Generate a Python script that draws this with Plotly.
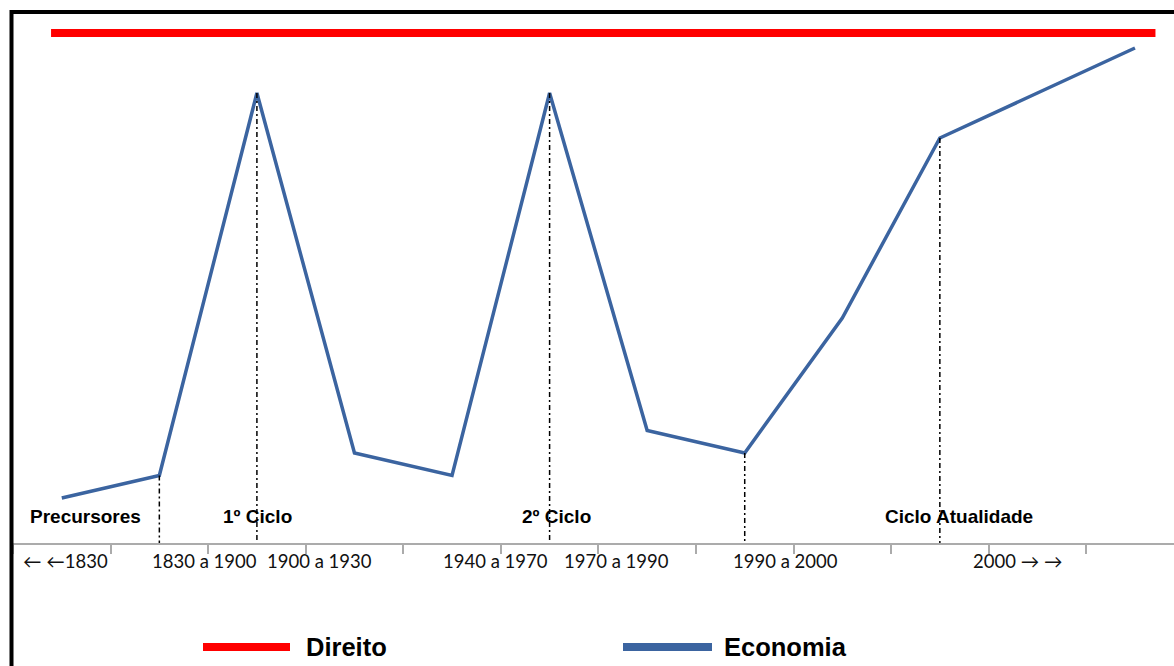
import plotly.graph_objects as go

# Timeline periods (one slot per category on the x axis)
periodos = ["← ←1830", "1830 a 1900", "1900 a 1930", "1940 a 1970",
            "1970 a 1990", "1990 a 2000", "2000 → →"]
# Economia curve, one value per slot
economia = [2, 3, 20, 4, 3, 20, 5, 4, 10, 18, 20, 22]
# Direito: constant high level across the whole timeline
direito_x = [-0.11, 11.21]
direito_y = [22.67, 22.67]
# Slots that mark the start/peak of each cycle
marcos = [1, 2, 5, 7, 9]
# Cycle names
ciclos = ["Precursores", "1º Ciclo", "2º Ciclo", "Ciclo Atualidade"]

# Layout-only placement of the text labels (x in slot units)
periodo_pos = [(-0.42, "left"), (1.465, "center"), (2.64, "center"), (4.45, "center"),
               (5.69, "center"), (7.42, "center"), (9.8, "center")]
ciclo_pos = [0.24, 2.01, 5.07, 9.2]

BLUE = "#3B64A0"
RED = "#FF0000"
AXIS = "#ABABAB"

W, H = 1174, 666
ML, MR, MT, MB = 13, 0, 3, 123
PW, PH = W - ML - MR, H - MT - MB


def px_x(px):
    return (px - ML) / PW


def px_y(py):
    return (H - MB - py) / PH


fig = go.Figure()

fig.add_trace(go.Scatter(x=direito_x, y=direito_y, mode="lines",
                         line=dict(color=RED, width=8), name="Direito",
                         showlegend=False, cliponaxis=False))

fig.add_trace(go.Scatter(x=list(range(len(economia))), y=economia, mode="lines",
                         line=dict(color=BLUE, width=3.5), name="Economia",
                         showlegend=False, cliponaxis=False))

# dash-dot drop lines from the marked points to the axis
dx, dy = [], []
for i in marcos:
    dx += [i, i, None]
    dy += [economia[i], 0, None]
fig.add_trace(go.Scatter(x=dx, y=dy, mode="lines",
                         line=dict(color="black", width=1.5, dash="5px,3px,2px,3px"),
                         showlegend=False, hoverinfo="skip"))

annotations = []
for txt, (xv, anc) in zip(periodos, periodo_pos):
    annotations.append(dict(x=xv, y=px_y(561), xref="x", yref="paper", text=txt,
                            showarrow=False, xanchor=anc, yanchor="middle",
                            font=dict(family="Lato", size=18.5, color="#111111")))
for txt, xv in zip(ciclos, ciclo_pos):
    annotations.append(dict(x=xv, y=px_y(516), xref="x", yref="paper",
                            text="<b>" + txt + "</b>",
                            showarrow=False, xanchor="center", yanchor="middle",
                            font=dict(family="Liberation Sans", size=19,
                                      color="black")))

# legend drawn by hand at the bottom
legend_items = [("Direito", RED, 203, 290, 304), ("Economia", BLUE, 623, 712, 722)]
shapes = []
for name, col, x0, x1, tx in legend_items:
    shapes.append(dict(type="line", xref="paper", yref="paper",
                       x0=px_x(x0), x1=px_x(x1), y0=px_y(647), y1=px_y(647),
                       line=dict(color=col, width=8)))
    annotations.append(dict(x=px_x(tx), y=px_y(647), xref="paper", yref="paper",
                            text="<b>" + name + "</b>", showarrow=False,
                            xanchor="left", yanchor="middle",
                            font=dict(family="Liberation Sans", size=25.5, color="black")))

# outer frame (left and top edges visible)
shapes.append(dict(type="rect", xref="paper", yref="paper",
                   x0=px_x(11.5), x1=px_x(1190), y0=px_y(700), y1=px_y(12),
                   line=dict(color="black", width=4), layer="above"))

fig.update_layout(
    width=W, height=H,
    margin=dict(l=ML, r=MR, t=MT, b=MB),
    paper_bgcolor="white", plot_bgcolor="white",
    xaxis=dict(range=[-0.5, 11.4], showgrid=False, zeroline=False,
               showline=True, linecolor=AXIS, linewidth=2,
               ticks="outside", tickvals=[i - 0.5 for i in range(12)],
               ticklen=9, tickcolor=AXIS, tickwidth=1.5,
               showticklabels=False, fixedrange=True),
    yaxis=dict(range=[0, 24], visible=False, fixedrange=True),
    annotations=annotations,
    shapes=shapes,
    showlegend=False,
)

fig.write_html("out.html")
